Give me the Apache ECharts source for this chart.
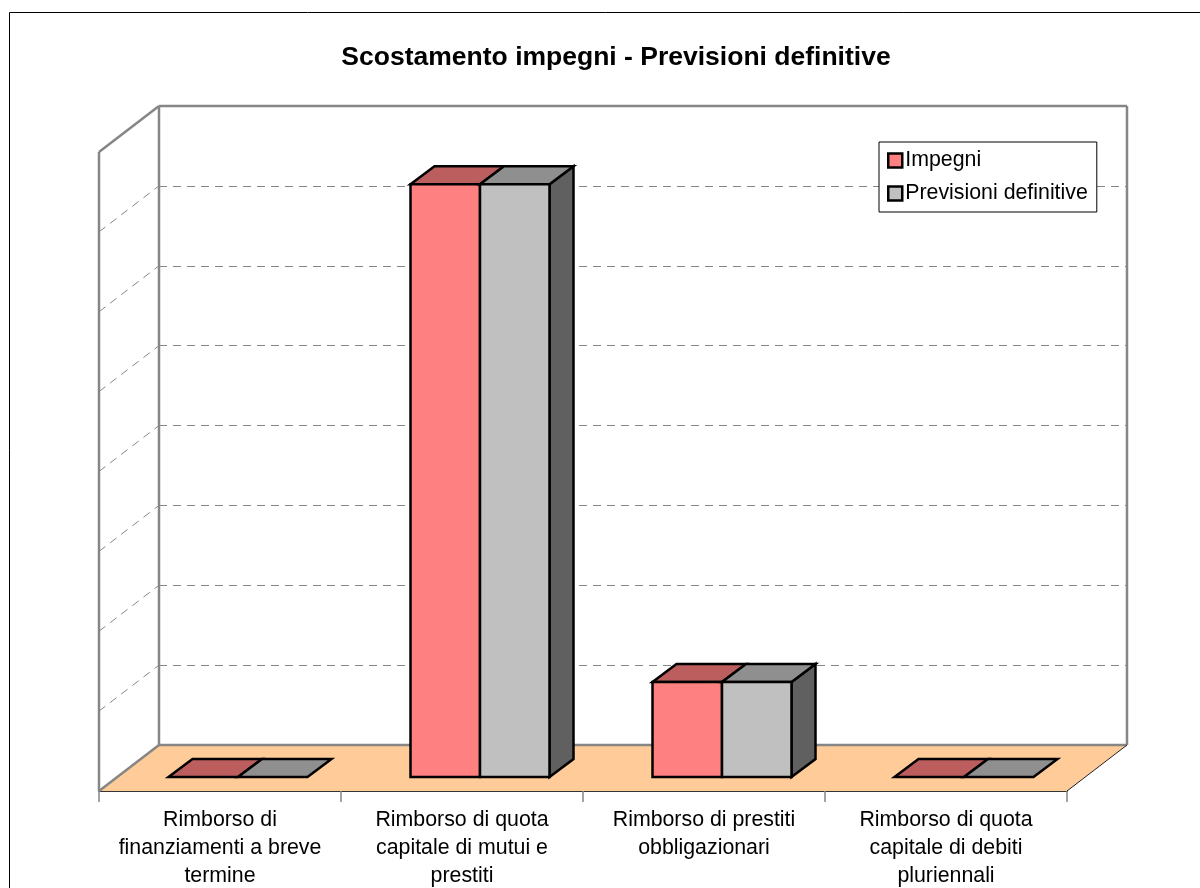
<!DOCTYPE html>
<html>
<head>
<meta charset="utf-8">
<script src="https://cdn.jsdelivr.net/npm/echarts@6/dist/echarts.min.js"></script>
<style>
  html, body { margin: 0; padding: 0; background: #fff; }
  #chart { width: 1200px; height: 888px; }
</style>
</head>
<body>
<div id="chart"></div>
<script>
  const categories = [
    'Rimborso di\nfinanziamenti a breve\ntermine',
    'Rimborso di quota\ncapitale di mutui e\nprestiti',
    'Rimborso di prestiti\nobbligazionari',
    'Rimborso di quota\ncapitale di debiti\npluriennali'
  ]
  const impegni = [0, 7.42, 1.19, 0]
  const previsioni = [0, 7.42, 1.19, 0]
  const wallTicks = [1, 2, 3, 4, 5, 6, 7]

  const FONT = '"Liberation Sans", Arial, sans-serif'
  const WALL = '#868686'
  // 3d look: how far the back wall sits from the front plane
  const DEPTH_X = 60
  const DEPTH_Y = -46
  // bars stand inside the depth, from front offset to front + bar depth
  const BAR_X = 18
  const BAR_Y = -14
  const BAR_DX = 24
  const BAR_DY = -18
  const BAR_W = 69.5

  function poly(points, fill) {
    return {
      type: 'polygon',
      shape: { points: points },
      style: { fill: fill, stroke: '#000', lineWidth: 2.5, lineJoin: 'miter' }
    }
  }

  function barItem(front, top, side, slot) {
    return function (params, api) {
      const c = api.coord([api.value(0), api.value(1)])
      const base = api.coord([api.value(0), 0])
      const x0 = c[0] + BAR_X + slot * BAR_W
      const x1 = x0 + BAR_W
      const yt = c[1] + BAR_Y
      const yb = base[1] + BAR_Y
      const children = []
      if (slot === 0 && api.value(1) > 0) {
        children.push(poly([[x1, yt], [x1 + BAR_DX, yt + BAR_DY], [x1 + BAR_DX, yb + BAR_DY], [x1, yb]], side))
      }
      children.push(poly([[x0, yt], [x0 + BAR_DX, yt + BAR_DY], [x1 + BAR_DX, yt + BAR_DY], [x1, yt]], top))
      if (api.value(1) > 0) {
        children.push(poly([[x0, yt], [x1, yt], [x1, yb], [x0, yb]], front))
      }
      return { type: 'group', children: children }
    }
  }

  function wallItem(params, api) {
    const r = params.coordSys
    const right = r.x + r.width
    const bottom = r.y + r.height
    const line = (x1, y1, x2, y2, color, w) => ({
      type: 'line',
      shape: { x1: x1, y1: y1, x2: x2, y2: y2 },
      style: { stroke: color, lineWidth: w }
    })
    return {
      type: 'group',
      children: [
        {
          type: 'polygon',
          shape: { points: [[r.x, bottom], [r.x + DEPTH_X, bottom + DEPTH_Y], [right + DEPTH_X, bottom + DEPTH_Y], [right, bottom]] },
          style: { fill: '#FFCC99' }
        },
        line(r.x, r.y, r.x, bottom, WALL, 2.5),
        line(r.x, r.y, r.x + DEPTH_X, r.y + DEPTH_Y, WALL, 2.5),
        line(r.x, bottom, r.x + DEPTH_X, bottom + DEPTH_Y, WALL, 2.5),
        line(r.x + DEPTH_X, r.y + DEPTH_Y, r.x + DEPTH_X, bottom + DEPTH_Y, WALL, 2.5),
        line(r.x + DEPTH_X, r.y + DEPTH_Y, right + DEPTH_X, r.y + DEPTH_Y, WALL, 2.5),
        line(right + DEPTH_X, r.y + DEPTH_Y, right + DEPTH_X, bottom + DEPTH_Y, WALL, 2.5),
        line(r.x + DEPTH_X, bottom + DEPTH_Y, right + DEPTH_X, bottom + DEPTH_Y, WALL, 2.5),
        line(right, bottom, right + DEPTH_X, bottom + DEPTH_Y, '#222', 1)
      ]
    }
  }

  function wallTickItem(params, api) {
    const r = params.coordSys
    const y = api.coord([0, api.value(0)])[1]
    return {
      type: 'line',
      shape: { x1: r.x, y1: y, x2: r.x + DEPTH_X, y2: y + DEPTH_Y },
      style: { stroke: WALL, lineWidth: 1, lineDash: [8, 6] }
    }
  }

  const myChart = echarts.init(document.getElementById('chart'), null, { renderer: 'canvas' })

  const option = {
    animation: false,
    backgroundColor: '#fff',
    textStyle: { fontFamily: FONT },
    title: {
      text: 'Scostamento impegni - Previsioni definitive',
      left: 611,
      top: 39,
      textAlign: 'center',
      textStyle: { fontFamily: FONT, fontSize: 26.5, fontWeight: 'bold', color: '#000' }
    },
    legend: {
      left: 879,
      top: 142,
      orient: 'vertical',
      padding: [8, 9, 8, 8],
      itemGap: 12,
      itemWidth: 14,
      itemHeight: 14,
      backgroundColor: '#fff',
      borderColor: '#000',
      borderWidth: 1,
      borderRadius: 0,
      z: 20,
      textStyle: { fontFamily: FONT, fontSize: 21.33, color: '#000', padding: [0, 0, 0, -2] },
      itemStyle: { borderColor: '#000', borderWidth: 2.5 },
      data: [
        { name: 'Impegni', icon: 'rect' },
        { name: 'Previsioni definitive', icon: 'rect' }
      ]
    },
    // grid 0 is the front plane, grid 1 the back wall
    grid: [
      { left: 99, top: 152, width: 968, height: 639, outerBoundsMode: 'none' },
      { left: 159, top: 106, width: 968, height: 639, outerBoundsMode: 'none' }
    ],
    xAxis: [
      {
        type: 'category',
        gridIndex: 0,
        data: categories,
        axisLine: { lineStyle: { color: '#333', width: 2 } },
        axisTick: { show: true, length: 11, lineStyle: { color: WALL, width: 1.5 } },
        axisLabel: { interval: 0, color: '#000', fontFamily: FONT, fontSize: 21.33, lineHeight: 28, margin: 15 },
        splitLine: { show: false }
      },
      {
        type: 'category',
        gridIndex: 1,
        data: categories,
        axisLine: { show: false },
        axisTick: { show: false },
        axisLabel: { show: false },
        splitLine: { show: false }
      }
    ],
    yAxis: [
      {
        type: 'value',
        gridIndex: 0,
        min: 0,
        max: 8,
        interval: 1,
        axisLine: { show: false },
        axisTick: { show: false },
        axisLabel: { show: false },
        splitLine: { show: false }
      },
      {
        type: 'value',
        gridIndex: 1,
        min: 0,
        max: 8,
        interval: 1,
        axisLine: { show: false },
        axisTick: { show: false },
        axisLabel: { show: false },
        splitLine: { show: true, lineStyle: { color: WALL, width: 1, type: [8, 6] } }
      }
    ],
    series: [
      {
        name: 'pareti',
        type: 'custom',
        xAxisIndex: 0,
        yAxisIndex: 0,
        z: 1,
        clip: false,
        silent: true,
        data: [[0, 0]],
        encode: { x: 0, y: 1 },
        renderItem: wallItem
      },
      {
        name: 'griglia',
        type: 'custom',
        xAxisIndex: 0,
        yAxisIndex: 0,
        z: 1,
        clip: false,
        silent: true,
        data: wallTicks.map(v => [v]),
        encode: { y: 0 },
        renderItem: wallTickItem
      },
      {
        name: 'Impegni',
        type: 'custom',
        xAxisIndex: 0,
        yAxisIndex: 0,
        z: 5,
        clip: false,
        itemStyle: { color: '#FF8080' },
        data: impegni.map((v, i) => [i, v]),
        encode: { x: 0, y: 1 },
        renderItem: barItem('#FF8080', '#BD5E5E', '#606060', -1)
      },
      {
        name: 'Previsioni definitive',
        type: 'custom',
        xAxisIndex: 0,
        yAxisIndex: 0,
        z: 6,
        clip: false,
        itemStyle: { color: '#C0C0C0' },
        data: previsioni.map((v, i) => [i, v]),
        encode: { x: 0, y: 1 },
        renderItem: barItem('#C0C0C0', '#8F8F8F', '#606060', 0)
      }
    ],
    graphic: [
      {
        type: 'rect',
        silent: true,
        z: -1,
        shape: { x: 9.5, y: 12.5, width: 1300, height: 1000 },
        style: { fill: 'none', stroke: '#000', lineWidth: 1 }
      }
    ]
  }

  myChart.setOption(option)
</script>
</body>
</html>
